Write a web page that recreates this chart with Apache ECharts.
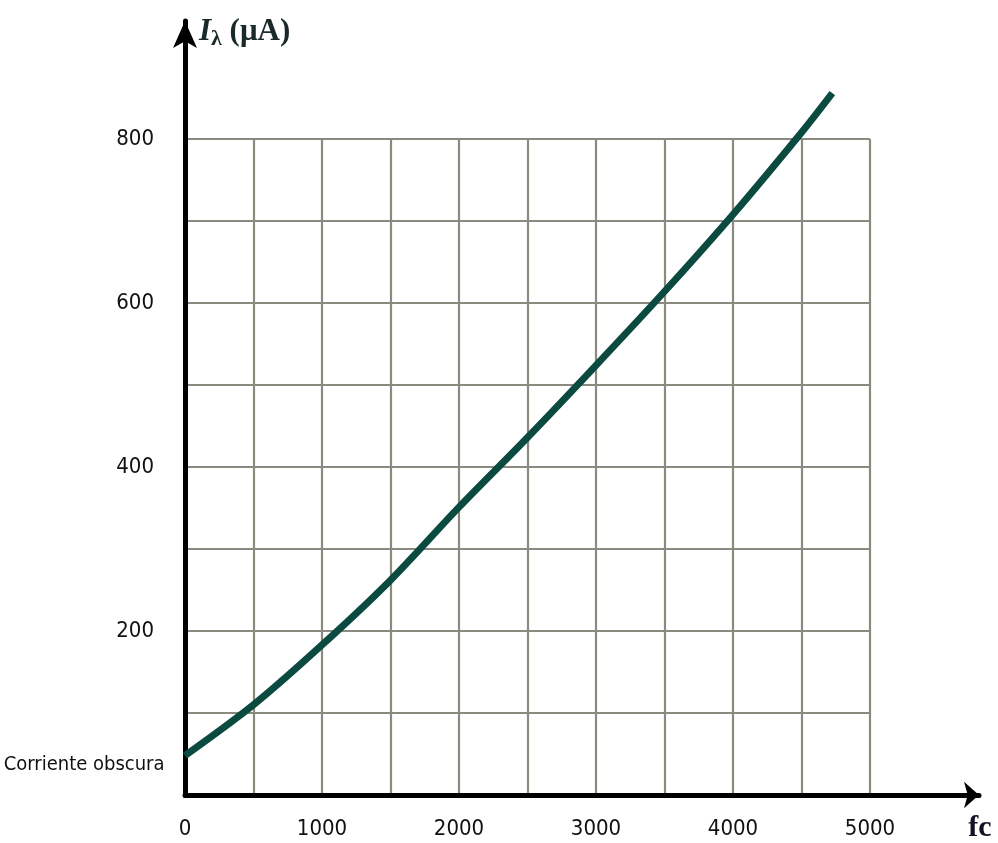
<!DOCTYPE html>
<html><head><meta charset="utf-8">
<script src="https://cdn.jsdelivr.net/npm/echarts@6/dist/echarts.min.js"></script>
<style>html,body{margin:0;padding:0;background:#fff}#c{width:998px;height:843px}</style>
</head><body><div id="c"></div>
<script>
// illuminance (fc) vs photocurrent I_lambda (µA), read at the grid lines
const fc      = [0, 500, 1000, 1500, 2000, 2500, 3000, 3500, 4000, 4500, 4725];
const current = [48, 110, 183, 262, 351, 436, 524, 614, 708, 808, 856];
const xTickLabels = [0, 1000, 2000, 3000, 4000, 5000];
const yTickLabels = [200, 400, 600, 800];
const darkCurrentLabel = 'Corriente obscura';
const xName = 'fc';

const NARROW = '"Liberation Sans Narrow","Arial Narrow","DejaVu Sans Condensed",sans-serif';
const SERIF = '"Liberation Serif","DejaVu Serif",serif';
const gridLine = {show: true, showMinLine: false, lineStyle: {color: '#8a8a7e', width: 2.2}};

const chart = echarts.init(document.getElementById('c'));
chart.setOption({
  animation: false,
  backgroundColor: '#fff',
  grid: [
    {left: 185, right: 128, top: 139, bottom: 48},
    {left: 185, right: 19, top: 21, bottom: 48}
  ],
  xAxis: [
    {gridIndex: 0, type: 'value', min: 0, max: 5000, interval: 500,
     axisLine: {show: false}, axisTick: {show: false}, splitLine: gridLine,
     axisLabel: {margin: 23, fontSize: 22, fontFamily: NARROW, color: '#111',
       formatter: v => xTickLabels.includes(v) ? String(v) : ''}},
    {gridIndex: 1, type: 'value', min: 0, max: 1, z: 5,
     axisLine: {show: true, onZero: false, symbol: ['none', 'arrow'], symbolSize: [20, 15],
       lineStyle: {color: '#000', width: 5}},
     axisTick: {show: false}, axisLabel: {show: false}, splitLine: {show: false},
     name: xName, nameLocation: 'end', nameGap: 1,
     nameTextStyle: {fontFamily: SERIF, fontWeight: 'bold', fontSize: 30, color: '#112',
       align: 'center', verticalAlign: 'top', padding: [18, 0, 0, 0]}}
  ],
  yAxis: [
    {gridIndex: 0, type: 'value', min: 0, max: 800, interval: 100,
     axisLine: {show: false}, axisTick: {show: false}, splitLine: gridLine,
     axisLabel: {margin: 31, fontSize: 22, fontFamily: NARROW, color: '#111',
       formatter: v => yTickLabels.includes(v) ? String(v) : ''}},
    {gridIndex: 1, type: 'value', min: 0, max: 1, z: 5,
     axisLine: {show: true, onZero: false, symbol: ['none', 'arrow'], symbolSize: [18, 27],
       lineStyle: {color: '#000', width: 5}},
     axisTick: {show: false}, axisLabel: {show: false}, splitLine: {show: false},
     name: '{i|I}{s|λ}{u| (μA)}', nameLocation: 'end', nameGap: -11,
     nameTextStyle: {align: 'left', verticalAlign: 'middle', padding: [0, 0, 0, 14],
       rich: {
         i: {fontFamily: SERIF, fontStyle: 'italic', fontWeight: 'bold', fontSize: 31, color: '#1a2a2a'},
         s: {fontFamily: SERIF, fontWeight: 'bold', fontSize: 22, color: '#1a2a2a', padding: [14, 0, 0, 0]},
         u: {fontFamily: SERIF, fontWeight: 'bold', fontSize: 31, color: '#1a2a2a'}
       }}}
  ],
  series: [{
    type: 'line', xAxisIndex: 0, yAxisIndex: 0, z: 10,
    data: fc.map((x, i) => [x, current[i]]),
    smooth: 0.3, showSymbol: false, clip: false,
    lineStyle: {color: '#0b4a40', width: 7, cap: 'butt'},
    markPoint: {
      silent: true, symbol: 'circle', symbolSize: 1,
      itemStyle: {color: 'rgba(0,0,0,0)'},
      label: {show: true, position: 'left', distance: 20, offset: [0, 9],
        formatter: darkCurrentLabel, fontFamily: NARROW, fontSize: 20, color: '#111'},
      data: [{coord: [fc[0], current[0]]}]
    }
  }]
});
</script></body></html>
